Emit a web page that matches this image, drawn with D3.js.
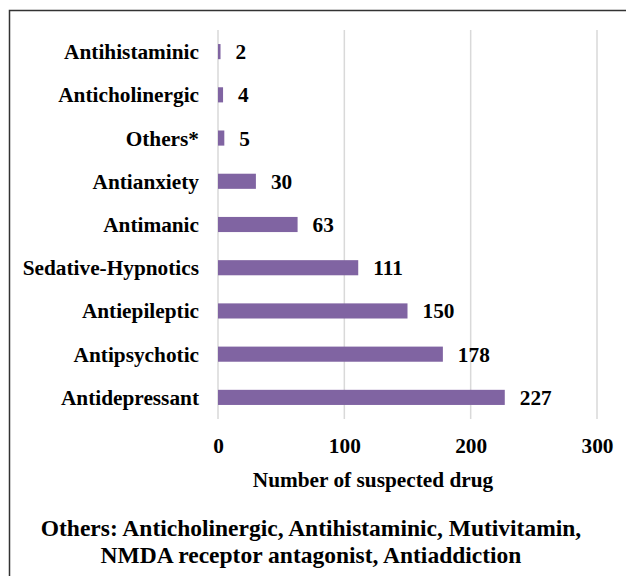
<!DOCTYPE html>
<html><head><meta charset="utf-8">
<script src="https://cdn.jsdelivr.net/npm/d3@7"></script>
<style>
body{margin:0;background:#fff;}
svg text{font-family:"Liberation Serif",serif;font-weight:bold;}
</style></head>
<body><svg id="c" width="626" height="576"></svg>
<script>
const categories = ["Antihistaminic","Anticholinergic","Others*","Antianxiety","Antimanic","Sedative-Hypnotics","Antiepileptic","Antipsychotic","Antidepressant"];
const values = [2,4,5,30,63,111,150,178,227];
const xTicks = [0,100,200,300];
const xTitle = "Number of suspected drug";
const footnote = ["Others: Anticholinergic, Antihistaminic, Mutivitamin,","NMDA receptor antagonist, Antiaddiction"];

const svg = d3.select("#c");
svg.append("rect").attr("x",9.5).attr("y",10.5).attr("width",640).attr("height",600)
  .attr("fill","#fff").attr("stroke","#333").attr("stroke-width",1.5);

const x = d3.scaleLinear().domain([0,300]).range([218,597]);
const y = d3.scaleBand().domain(categories).range([30,419]).paddingInner(0.65).paddingOuter(0.325);

svg.append("g").selectAll("line").data(xTicks).join("line")
  .attr("x1",d=>x(d)).attr("x2",d=>x(d)).attr("y1",30).attr("y2",419)
  .attr("stroke","#d9d9d9").attr("stroke-width",1.5);

svg.append("g").selectAll("rect").data(values).join("rect")
  .attr("x",x(0)).attr("y",(d,i)=>y(categories[i]))
  .attr("width",d=>x(d)-x(0)).attr("height",y.bandwidth())
  .attr("fill","#8064a2");

function txt(sel,size){ return sel.style("font-family","Liberation Serif").style("font-weight","bold").style("font-size",size+"px").attr("fill","#000"); }

txt(svg.append("g").selectAll("text").data(values).join("text")
  .attr("x",d=>x(d)+15).attr("y",(d,i)=>y(categories[i])+y.bandwidth()/2)
  .attr("dy","0.35em").text(d=>d),21.3);

txt(svg.append("g").selectAll("text").data(categories).join("text")
  .attr("x",199).attr("y",d=>y(d)+y.bandwidth()/2).attr("dy","0.35em")
  .attr("text-anchor","end").text(d=>d),21.3);

const xAxis = d3.axisBottom(x).tickValues(xTicks).tickSize(0).tickPadding(0);
const gx = svg.append("g").attr("transform","translate(0,453)").call(xAxis);
gx.select(".domain").remove();
gx.attr("font-family",null);
txt(gx.selectAll("text"),21.3).attr("dy",null).attr("y",0);

txt(svg.append("text").attr("x",373).attr("y",486.5).attr("text-anchor","middle")
  .text(xTitle),21.3);

txt(svg.append("g").selectAll("text").data(footnote).join("text")
  .attr("x",311).attr("y",(d,i)=>535.5+i*27).attr("text-anchor","middle")
  .text(d=>d),23.5);
</script></body></html>
